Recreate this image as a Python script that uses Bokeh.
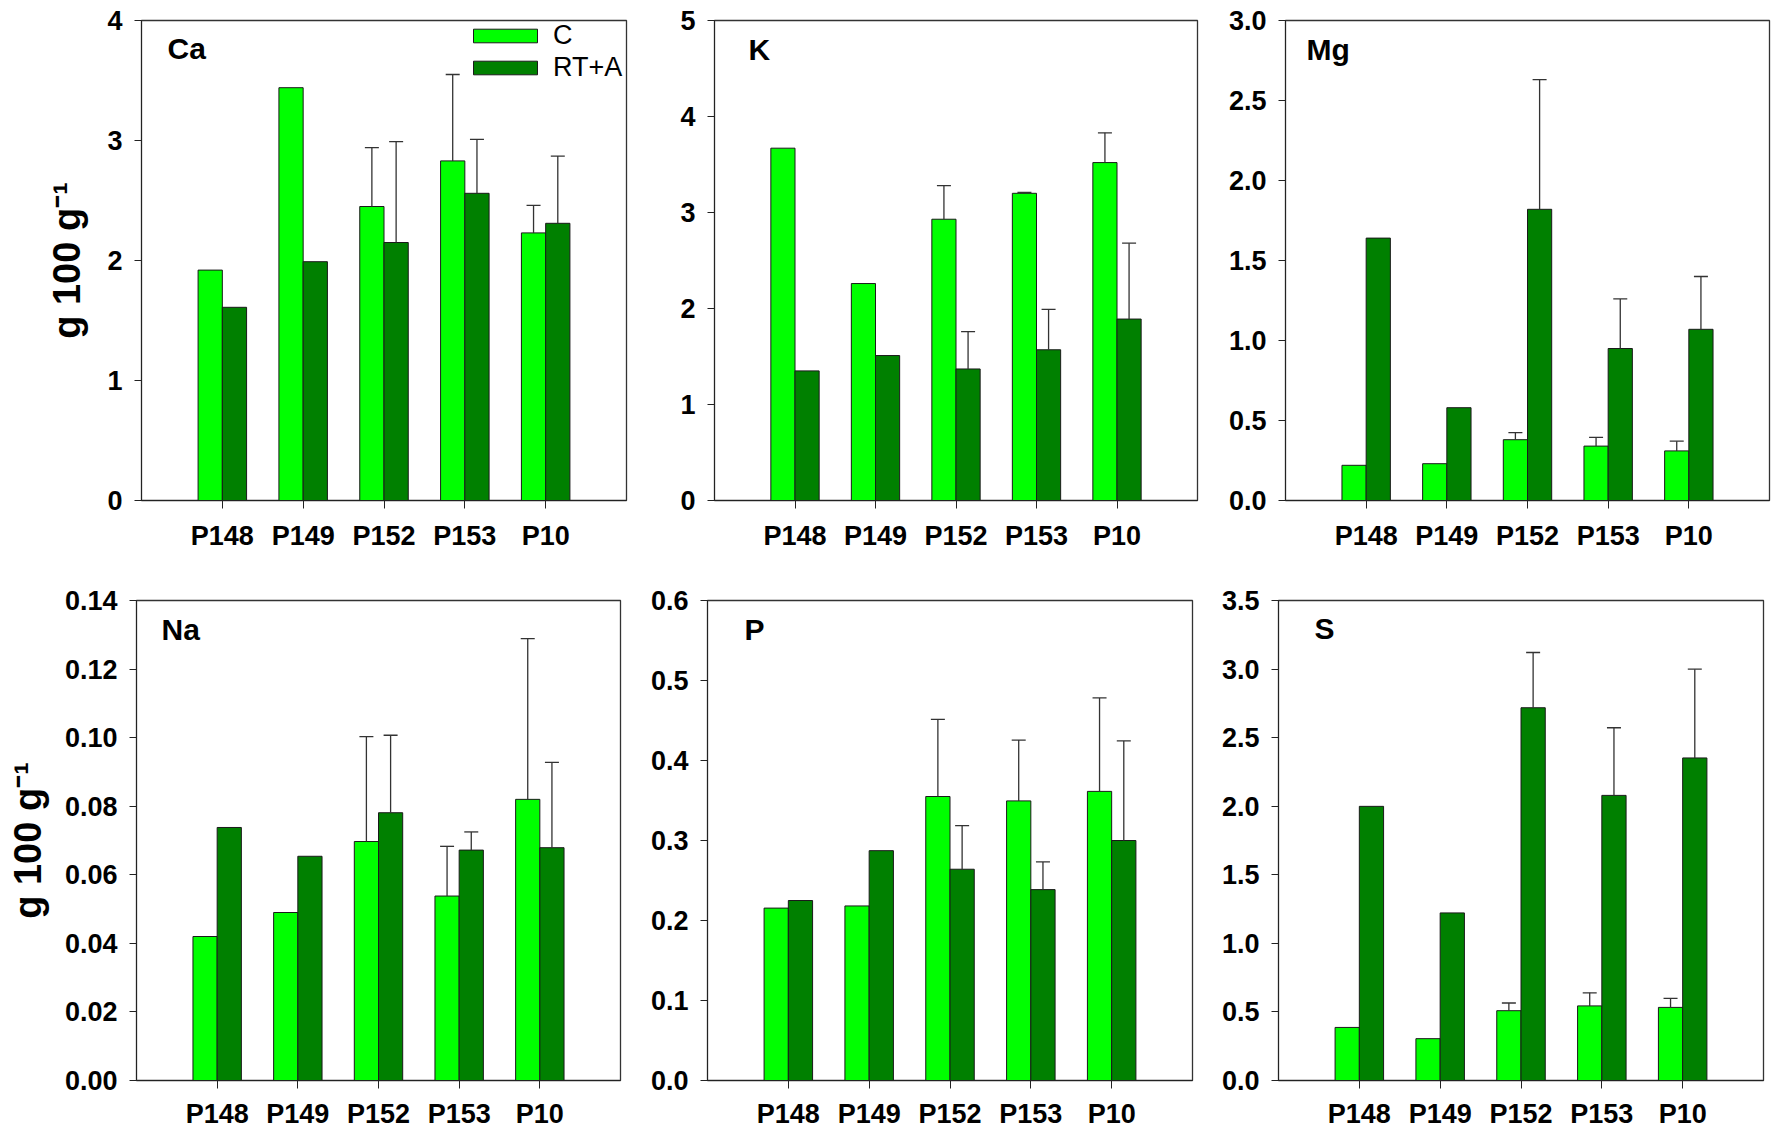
from bokeh.plotting import figure
from bokeh.layouts import row, column
from bokeh.models import (ColumnDataSource, Range1d, FixedTicker, PrintfTickFormatter,
                          Whisker, TeeHead, Label)
from bokeh.transform import dodge
from bokeh.embed import file_html
from bokeh.resources import INLINE

# ---------------- data ----------------
categories = ["P148", "P149", "P152", "P153", "P10"]
series_names = ["C", "RT+A"]

Ca_C = [1.92, 3.44, 2.45, 2.83, 2.23]
Ca_C_err = [0, 0, 0.49, 0.72, 0.23]
Ca_RT = [1.61, 1.99, 2.15, 2.56, 2.31]
Ca_RT_err = [0, 0, 0.84, 0.45, 0.56]

K_C = [3.67, 2.26, 2.93, 3.20, 3.52]
K_C_err = [0, 0, 0.35, 0.01, 0.31]
K_RT = [1.35, 1.51, 1.37, 1.57, 1.89]
K_RT_err = [0, 0, 0.39, 0.42, 0.79]

Mg_C = [0.22, 0.23, 0.38, 0.34, 0.31]
Mg_C_err = [0, 0, 0.044, 0.055, 0.061]
Mg_RT = [1.64, 0.58, 1.82, 0.95, 1.07]
Mg_RT_err = [0, 0, 0.81, 0.31, 0.33]

Na_C = [0.042, 0.049, 0.0697, 0.0538, 0.082]
Na_C_err = [0, 0, 0.0306, 0.0145, 0.0469]
Na_RT = [0.0738, 0.0654, 0.0781, 0.0672, 0.0679]
Na_RT_err = [0, 0, 0.0226, 0.0053, 0.0249]

P_C = [0.2155, 0.2182, 0.355, 0.3495, 0.3614]
P_C_err = [0, 0, 0.0964, 0.076, 0.1168]
P_RT = [0.225, 0.2873, 0.2641, 0.2386, 0.300]
P_RT_err = [0, 0, 0.0545, 0.0346, 0.1245]

S_C = [0.387, 0.305, 0.509, 0.544, 0.533]
S_C_err = [0, 0, 0.056, 0.095, 0.066]
S_RT = [1.999, 1.222, 2.718, 2.079, 2.352]
S_RT_err = [0, 0, 0.403, 0.493, 0.647]

Ca_ticks = [0, 1, 2, 3, 4]
K_ticks = [0, 1, 2, 3, 4, 5]
Mg_ticks = [0.0, 0.5, 1.0, 1.5, 2.0, 2.5, 3.0]
Na_ticks = [0.00, 0.02, 0.04, 0.06, 0.08, 0.10, 0.12, 0.14]
P_ticks = [0.0, 0.1, 0.2, 0.3, 0.4, 0.5, 0.6]
S_ticks = [0.0, 0.5, 1.0, 1.5, 2.0, 2.5, 3.0, 3.5]

y_label = "g 100 g\u207b\u00b9"

# ---------------- style ----------------
FONT = "Liberation Sans"
C_COLOR = "#00FF00"
RT_COLOR = "#008000"
EDGE = "#1a1a1a"
AXIS = "#222222"
OFF = 0.15
BAR_W = 0.3


def make_panel(name, c_vals, c_err, rt_vals, rt_err, y_ticks, fmt, width, height,
               borders, label_dx, ylabel=None, legend=False, x_standoff=12,
               ylabel_standoff=18):
    left, right, top, bottom = borders
    n = len(categories)
    p = figure(width=width, height=height, output_backend="svg", toolbar_location=None,
               x_range=Range1d(-1, n), y_range=Range1d(y_ticks[0], y_ticks[-1]),
               min_border_left=left, min_border_right=right,
               min_border_top=top, min_border_bottom=bottom)
    src = ColumnDataSource(dict(x=list(range(n)), c=c_vals, rt=rt_vals, cat=categories))
    kw_c = dict(legend_label=series_names[0]) if legend else {}
    kw_rt = dict(legend_label=series_names[1]) if legend else {}
    p.vbar(x=dodge("x", -OFF), top="c", width=BAR_W, source=src, bottom=0,
           fill_color=C_COLOR, line_color=EDGE, line_width=1, **kw_c)
    p.vbar(x=dodge("x", OFF), top="rt", width=BAR_W, source=src, bottom=0,
           fill_color=RT_COLOR, line_color=EDGE, line_width=1, **kw_rt)

    for vals, errs, off in ((c_vals, c_err, -OFF), (rt_vals, rt_err, OFF)):
        idx = [i for i in range(n) if errs[i] > 0]
        esrc = ColumnDataSource(dict(x=idx, lower=[vals[i] for i in idx],
                                     upper=[vals[i] + errs[i] for i in idx]))
        w = Whisker(source=esrc, base=dodge("x", off), lower="lower", upper="upper",
                    upper_head=TeeHead(size=14, line_color="#333333", line_width=1.3),
                    lower_head=None, line_color="#333333", line_width=1.3, level="glyph")
        p.add_layout(w)

    p.xgrid.visible = False
    p.ygrid.visible = False
    p.background_fill_color = "white"
    p.border_fill_color = "white"
    p.outline_line_color = "#333333"
    p.outline_line_width = 1.3

    xa = p.xaxis[0]
    xa.ticker = FixedTicker(ticks=list(range(n)))
    xa.major_label_overrides = {i: c for i, c in enumerate(categories)}
    xa.major_tick_out = 8
    xa.major_tick_in = 0
    xa.minor_tick_line_color = None
    xa.axis_line_color = AXIS
    xa.major_tick_line_color = AXIS
    xa.major_label_text_font = FONT
    xa.major_label_text_font_style = "bold"
    xa.major_label_text_font_size = "27px"
    xa.major_label_text_color = "black"
    xa.major_label_standoff = x_standoff

    ya = p.yaxis[0]
    ya.ticker = FixedTicker(ticks=y_ticks)
    ya.formatter = PrintfTickFormatter(format=fmt)
    ya.major_tick_out = 7
    ya.major_tick_in = 0
    ya.minor_tick_line_color = None
    ya.axis_line_color = AXIS
    ya.major_tick_line_color = AXIS
    ya.major_label_text_font = FONT
    ya.major_label_text_font_style = "bold"
    ya.major_label_text_font_size = "27px"
    ya.major_label_text_color = "black"
    ya.major_label_standoff = 12
    if ylabel:
        ya.axis_label = ylabel
        ya.axis_label_text_font = FONT
        ya.axis_label_text_font_style = "bold"
        ya.axis_label_text_font_size = "38px"
        ya.axis_label_text_color = "black"
        ya.axis_label_standoff = ylabel_standoff

    frame_h = height - top - bottom
    p.add_layout(Label(x=label_dx, y=frame_h - 33, x_units="screen", y_units="screen",
                       text=name, text_font=FONT, text_font_style="bold",
                       text_font_size="30px", text_color="black",
                       text_baseline="alphabetic"))

    if legend:
        lg = p.legend[0]
        lg.location = (324, 417)
        lg.border_line_color = None
        lg.background_fill_alpha = 0
        lg.padding = 0
        lg.margin = 0
        lg.spacing = 1
        lg.glyph_width = 80
        lg.glyph_height = 17
        lg.label_standoff = 8
        lg.label_text_font = FONT
        lg.label_text_font_size = "27px"
        lg.label_text_color = "black"
    return p


# row 1 (height 568)
p_ca = make_panel("Ca", Ca_C, Ca_C_err, Ca_RT, Ca_RT_err, Ca_ticks, "%d", 650, 568,
                  (141, 24, 20, 63), 26, ylabel=y_label, legend=True, ylabel_standoff=16)
p_k = make_panel("K", K_C, K_C_err, K_RT, K_RT_err, K_ticks, "%d", 560, 568,
                 (64, 13, 16, 68), 34)
p_mg = make_panel("Mg", Mg_C, Mg_C_err, Mg_RT, Mg_RT_err, Mg_ticks, "%.1f", 562, 568,
                  (75, 3, 18, 66), 21)
# row 2 (height 566)
p_na = make_panel("Na", Na_C, Na_C_err, Na_RT, Na_RT_err, Na_ticks, "%.2f", 635, 566,
                  (136, 15, 32, 50), 25, ylabel=y_label, x_standoff=10, ylabel_standoff=13)
p_p = make_panel("P", P_C, P_C_err, P_RT, P_RT_err, P_ticks, "%.1f", 570, 566,
                 (72, 13, 28, 54), 37, x_standoff=10)
p_s = make_panel("S", S_C, S_C_err, S_RT, S_RT_err, S_ticks, "%.1f", 567, 566,
                 (73, 9, 29, 52), 36, x_standoff=10)

layout = column(row(p_ca, p_k, p_mg), row(p_na, p_p, p_s))

with open("out.html", "w") as f:
    f.write(file_html(layout, INLINE))
